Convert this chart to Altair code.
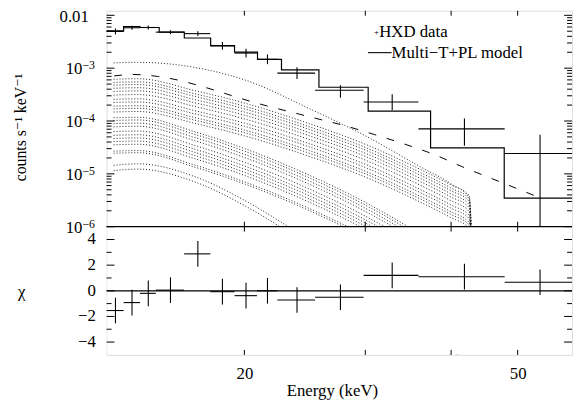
import altair as alt
import pandas as pd

W, H, TOP = 472, 349, 219
FONT = "'Liberation Serif', 'Times New Roman', Times, 'DejaVu Serif', serif"

# ---------------- data ----------------
e_lo = [12.6, 13.34, 14.09, 14.86, 16.34, 17.84, 19.35, 20.86, 22.34, 25.35, 29.83, 35.85, 47.87]
e_hi = [13.34, 14.09, 14.86, 16.34, 17.84, 19.35, 20.86, 22.34, 25.35, 29.83, 35.85, 47.87, 60.0]
e_mid = [12.98, 13.72, 14.49, 15.61, 17.11, 18.58, 20.11, 21.61, 23.86, 27.6, 32.83, 41.83, 53.9]
cnt = [4.95e-3, 5.82e-3, 5.88e-3, 4.80e-3, 4.50e-3, 2.64e-3, 1.93e-3, 1.47e-3, 8.04e-4, 3.83e-4, 2.29e-4, 7.1e-5, 2.43e-5]
cnt_lo = [4.35e-3, 5.34e-3, 5.40e-3, 4.41e-3, 4.04e-3, 2.22e-3, 1.59e-3, 1.19e-3, 6.22e-4, 2.75e-4, 1.6e-4, 3.42e-5, 1e-6]
cnt_hi = [5.63e-3, 6.34e-3, 6.40e-3, 5.23e-3, 5.01e-3, 3.13e-3, 2.34e-3, 1.82e-3, 1.04e-3, 4.74e-4, 3.22e-4, 1.12e-4, 5.49e-5]
chi = [-1.54, -0.92, -0.2, 0.05, 2.88, -0.07, -0.38, 0.0, -0.72, -0.5, 1.2, 1.1, 0.67]
chi_err = [1.0, 1.0, 1.0, 1.0, 1.0, 1.0, 1.0, 1.0, 1.0, 1.0, 1.0, 1.0, 1.0]

model_edges = [12.6, 13.34, 14.09, 15.03, 16.35, 17.86, 19.35, 20.9, 22.65, 25.68, 30.29, 37.34, 47.8, 60.0]
model_levels = [5.08e-3, 6.14e-3, 5.88e-3, 4.8e-3, 3.72e-3, 2.67e-3, 2.01e-3, 1.47e-3, 9.3e-4, 4.35e-4, 1.54e-4, 3.09e-5, 3.47e-6]

pl_energy = [12.92, 13.75, 14.94, 16.07, 17.11, 18.10, 19.27, 20.45, 21.84, 23.33, 25.35, 27.99, 30.9,
             34.12, 37.67, 41.6, 45.93, 49.9, 53.3]
pl_counts = [7.13e-4, 7.60e-4, 6.98e-4, 5.88e-4, 4.74e-4, 3.83e-4, 2.96e-4, 2.34e-4, 1.85e-4, 1.49e-4,
             1.13e-4, 8.17e-5, 5.56e-5, 3.70e-5, 2.36e-5, 1.35e-5, 8.07e-6, 5.26e-6, 3.73e-6]

# thermal components: log10(counts) at dot_energy
dot_energy = [12.9, 14.0, 17.0, 20.0, 25.0, 30.0, 36.0, 40.0, 42.5, 43.2]
dot_log = [
    [-2.90, -2.89, -2.99, -3.22, -3.78, -4.28, -4.86, -5.19, -5.45, -8],
    [-3.21, -3.20, -3.43, -3.66, -4.06, -4.44, -4.91, -5.21, -5.41, -8],
    [-3.27, -3.26, -3.49, -3.72, -4.12, -4.50, -4.97, -5.27, -5.47, -8],
    [-3.32, -3.31, -3.54, -3.77, -4.17, -4.55, -5.02, -5.32, -5.52, -8],
    [-3.38, -3.37, -3.60, -3.83, -4.23, -4.61, -5.08, -5.38, -5.58, -8],
    [-3.44, -3.43, -3.66, -3.89, -4.29, -4.67, -5.14, -5.44, -5.64, -8],
    [-3.51, -3.50, -3.73, -3.96, -4.36, -4.74, -5.21, -5.51, -5.71, -8],
    [-3.59, -3.58, -3.81, -4.04, -4.44, -4.82, -5.29, -5.59, -5.79, -8],
    [-3.65, -3.64, -3.87, -4.10, -4.50, -4.88, -5.35, -5.65, -5.85, -8],
    [-3.72, -3.71, -3.94, -4.17, -4.57, -4.95, -5.42, -5.72, -5.92, -8],
    [-3.77, -3.76, -3.99, -4.22, -4.62, -5.00, -5.47, -5.77, -5.97, -8],
    [-3.83, -3.82, -4.05, -4.28, -4.68, -5.06, -5.53, -5.83, -6.03, -8],
    [-3.94, -3.93, -4.21, -4.52, -5.04, -5.54, -6.14, -6.54, -6.74, -8],
    [-3.99, -3.98, -4.26, -4.57, -5.09, -5.59, -6.19, -6.59, -6.79, -8],
    [-4.05, -4.04, -4.32, -4.63, -5.15, -5.65, -6.25, -6.65, -6.85, -8],
    [-4.11, -4.10, -4.38, -4.69, -5.21, -5.71, -6.31, -6.71, -6.91, -8],
    [-4.20, -4.19, -4.47, -4.78, -5.30, -5.80, -6.40, -6.80, -7.00, -8],
    [-4.27, -4.26, -4.54, -4.85, -5.37, -5.87, -6.47, -6.87, -7.07, -8],
    [-4.33, -4.32, -4.60, -4.91, -5.43, -5.93, -6.53, -6.93, -7.13, -8],
    [-4.39, -4.38, -4.66, -4.97, -5.49, -5.99, -6.59, -6.99, -7.19, -8],
    [-4.45, -4.44, -4.72, -5.03, -5.55, -6.05, -6.65, -7.05, -7.25, -8],
    [-4.57, -4.56, -4.84, -5.15, -5.67, -6.17, -6.77, -7.17, -7.37, -8],
    [-4.61, -4.60, -4.88, -5.19, -5.71, -6.21, -6.81, -7.21, -7.41, -8],
    [-4.84, -4.81, -5.06, -5.50, -6.29, -7.04, -7.84, -8.34, -8.64, -9],
    [-4.94, -4.91, -5.16, -5.60, -6.39, -7.14, -7.94, -8.44, -8.74, -9],
]

# axis ticks / labels
x_tick_values = [20, 30, 40, 50]
x_label_values = [20, 50]
y_major_top = [1e-6, 1e-5, 1e-4, 1e-3, 1e-2]
y_top_base = ["10", "10", "10", "10", "0.01"]
y_top_sup = ["−6", "−5", "−4", "−3", ""]
y_minor_top = [m * 10.0 ** k for k in range(-6, -2) for m in range(2, 10)]
y_major_bot = [-4, -2, 0, 2, 4]
y_bot_labels = ["−4", "−2", "0", "2", "4"]
y_minor_bot = [-3, -1, 1, 3]

# ---------------- tables ----------------
pts = pd.DataFrame({"lo": e_lo, "hi": e_hi, "mid": e_mid, "c": cnt, "clo": cnt_lo, "chi_": cnt_hi,
                    "r": chi, "rlo": [a - b for a, b in zip(chi, chi_err)],
                    "rhi": [a + b for a, b in zip(chi, chi_err)]})
model = pd.DataFrame({"e": model_edges, "c": model_levels + [model_levels[-1]]})
pl = pd.DataFrame({"e": pl_energy, "c": pl_counts})
dot_rows = []
for i, row in enumerate(dot_log):
    for e, v in zip(dot_energy, row):
        dot_rows.append({"e": e, "c": 10.0 ** v, "k": i})
dots = pd.DataFrame(dot_rows)

xsc = alt.Scale(type="log", domain=[12.6, 60.0], nice=False)
ysc_top = alt.Scale(type="log", domain=[1e-6, 0.0122], range=[TOP, 0], nice=False)
ysc_bot = alt.Scale(type="linear", domain=[-5, 5], range=[H, TOP], nice=False, zero=False)

x_axis = alt.Axis(values=x_label_values, format="d", ticks=False, tickSize=0, domain=False, grid=False,
                  labelFont=FONT, labelFontSize=17, labelColor="black", labelPadding=11, title=None)

X = lambda f: alt.X(f, type="quantitative", scale=xsc, axis=x_axis)
YT = lambda f: alt.Y(f, type="quantitative", scale=ysc_top, axis=None)
YB = lambda f: alt.Y(f, type="quantitative", scale=ysc_bot, axis=None)


def text(s, x, y, size=17, align="center", angle=0):
    return alt.Chart(pd.DataFrame({"t": [s]})).mark_text(
        font=FONT, fontSize=size, align=align, baseline="middle", angle=angle, color="black"
    ).encode(text="t:N", x=alt.value(x), y=alt.value(y))


def vticks(values, enc, length, side):
    df = pd.DataFrame({"v": values})
    x0, x1 = (0, length) if side == "left" else (W - length, W)
    return alt.Chart(df).mark_rule(color="black", strokeWidth=1).encode(
        y=enc("v"), x=alt.value(x0), x2=alt.value(x1))


def hticks(y0, y1):
    df = pd.DataFrame({"v": x_tick_values})
    return alt.Chart(df).mark_rule(color="black", strokeWidth=1).encode(
        x=X("v"), y=alt.value(y0), y2=alt.value(y1))


# ---------------- top panel ----------------
dot_layer = alt.Chart(dots).mark_line(color="#222222", strokeWidth=1, strokeDash=[1, 2],
                                      interpolate="monotone", clip=True).encode(
    x=X("e"), y=YT("c"), detail="k:N")
# blank out the part of the component curves that falls below 1e-6 (residual panel area)
mask = alt.Chart(pd.DataFrame({"v": [0]})).mark_rect(color="white").encode(
    x=alt.value(0.7), x2=alt.value(W - 0.7), y=alt.value(TOP), y2=alt.value(H - 0.7))
pl_layer = alt.Chart(pl).mark_line(color="black", strokeWidth=1, strokeDash=[8, 11],
                                   interpolate="monotone").encode(x=X("e"), y=YT("c"))
model_layer = alt.Chart(model).mark_line(color="black", strokeWidth=1.2, interpolate="step-after").encode(
    x=X("e"), y=YT("c"))
data_h = alt.Chart(pts).mark_rule(color="black", strokeWidth=1.1).encode(x=X("lo"), x2="hi", y=YT("c"))
data_v = alt.Chart(pts).mark_rule(color="black", strokeWidth=1.1).encode(x=X("mid"), y=YT("clo"), y2="chi_")
sep = alt.Chart(pd.DataFrame({"v": [1e-6]})).mark_rule(color="black", strokeWidth=1.2).encode(
    y=YT("v"), x=alt.value(0), x2=alt.value(W))

ylab_top = pd.DataFrame({"v": y_major_top, "base": y_top_base, "sup": y_top_sup})
ylab_base = alt.Chart(ylab_top[ylab_top["sup"] != ""]).mark_text(
    font=FONT, fontSize=17, align="right", baseline="middle", color="black", dy=1).encode(
    y=YT("v"), x=alt.value(-24.5), text="base:N")
ylab_base2 = alt.Chart(ylab_top[ylab_top["sup"] == ""]).mark_text(
    font=FONT, fontSize=17, align="right", baseline="middle", color="black", dy=1.5).encode(
    y=YT("v"), x=alt.value(-18), text="base:N")
ylab_sup = alt.Chart(ylab_top[ylab_top["sup"] != ""]).mark_text(
    font=FONT, fontSize=12, align="left", baseline="middle", color="black", dy=-3).encode(
    y=YT("v"), x=alt.value(-24.5), text="sup:N")

legend_line = alt.Chart(pd.DataFrame({"v": [0]})).mark_rule(color="black", strokeWidth=1.1).encode(
    x=alt.value(265), x2=alt.value(289), y=alt.value(42.5))

top = alt.layer(
    dot_layer, mask, pl_layer, model_layer, data_h, data_v, sep,
    vticks(y_major_top, YT, 8, "left"), vticks(y_minor_top, YT, 5, "left"),
    vticks(y_major_top, YT, 8, "right"), vticks(y_minor_top, YT, 5, "right"),
    hticks(0, 5), hticks(TOP - 5, TOP), hticks(TOP, TOP + 5), hticks(H - 5, H),
    ylab_base, ylab_base2, ylab_sup,
    text("+", 273.7, 21.5, size=9), text("HXD data", 276.5, 22, size=17, align="left"),
    legend_line, text("Multi−T+PL model", 289, 43, size=17, align="left"),
    text("counts s⁻¹ keV⁻¹", -87, 118.5, size=16, angle=270),
    text("χ", -86, 285, size=17),
    text("Energy (keV)", 229, 386, size=17),
)

# ---------------- residual panel ----------------
zero = alt.Chart(pd.DataFrame({"v": [0]})).mark_rule(color="black", strokeWidth=1.2).encode(
    y=YB("v"), x=alt.value(0), x2=alt.value(W))
res_h = alt.Chart(pts).mark_rule(color="black", strokeWidth=1.1).encode(x=X("lo"), x2="hi", y=YB("r"))
res_v = alt.Chart(pts).mark_rule(color="black", strokeWidth=1.1).encode(x=X("mid"), y=YB("rlo"), y2="rhi")
ylab_bot = alt.Chart(pd.DataFrame({"v": y_major_bot, "t": y_bot_labels})).mark_text(
    font=FONT, fontSize=17, align="right", baseline="middle", color="black").encode(
    y=YB("v"), x=alt.value(-11), text="t:N")

bottom = alt.layer(
    zero, res_h, res_v, ylab_bot,
    vticks(y_major_bot, YB, 8, "left"), vticks(y_minor_bot, YB, 5, "left"),
    vticks(y_major_bot, YB, 8, "right"), vticks(y_minor_bot, YB, 5, "right"),
)

chart = alt.layer(top, bottom).resolve_scale(y="independent").properties(
    width=W, height=H,
    padding={"left": 100, "top": 0, "right": 1, "bottom": 45},
    autosize=alt.AutoSizeParams(type="none"),
).configure_view(stroke="black", strokeWidth=1.2).configure(background="white")

chart.save("out.html", embed_options={"renderer": "svg", "actions": False})
